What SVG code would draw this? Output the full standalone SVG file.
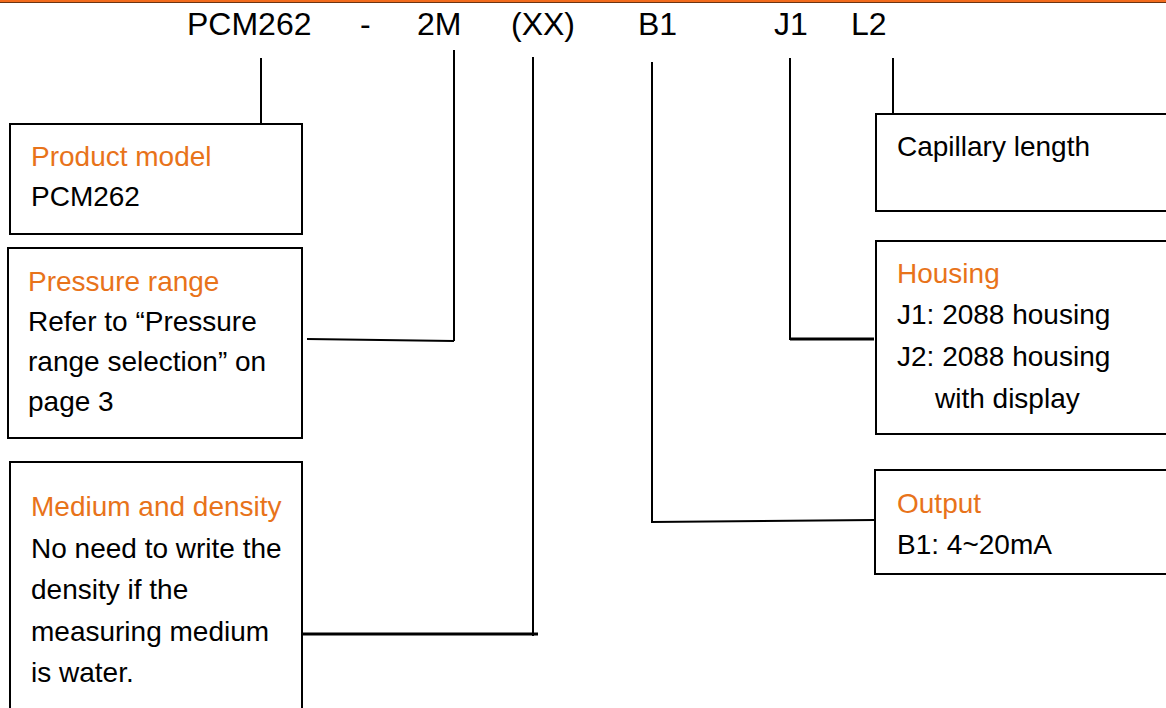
<svg xmlns="http://www.w3.org/2000/svg" width="1166" height="708" viewBox="0 0 1166 708">
<style>
text{font-family:"Liberation Sans",Arial,sans-serif;font-size:28px;fill:#000}
.t{fill:#E8731A}
.code{font-size:32px}
.box{fill:#fff;stroke:#000;stroke-width:2}
.c{fill:none;stroke:#000;stroke-width:2}
.ct{fill:none;stroke:#000;stroke-width:3}
</style>
<rect x="0" y="0" width="1166" height="2" fill="#F26B1D"/>
<rect x="0" y="2" width="1166" height="1" fill="#6b3412"/>
<g id="codes">
<text class="code" x="187" y="35">PCM262</text>
<text class="code" x="360" y="35">-</text>
<text class="code" x="417" y="35">2M</text>
<text class="code" x="511" y="35">(XX)</text>
<text class="code" x="638" y="35">B1</text>
<text class="code" x="774" y="35">J1</text>
<text class="code" x="851" y="35">L2</text>
</g>
<g id="connectors">
<line class="c" x1="261" y1="58" x2="261" y2="124"/>
<line class="c" x1="454" y1="50" x2="454" y2="341"/>
<polyline class="c" points="307,339 454,341"/>
<line class="c" x1="533" y1="57" x2="533" y2="636"/>
<line class="ct" x1="302" y1="634" x2="538" y2="634"/>
<polyline class="c" points="652,62 652,522 875,520"/>
<line class="c" x1="790" y1="58" x2="790" y2="340"/>
<line class="ct" x1="790" y1="339" x2="874" y2="339"/>
<line class="c" x1="893" y1="58" x2="893" y2="114"/>
</g>
<g id="product">
<rect class="box" x="10" y="124" width="292" height="110"/>
<text class="t" x="31" y="166">Product model</text>
<text x="31" y="206">PCM262</text>
</g>
<g id="pressure">
<rect class="box" x="8" y="248" width="294" height="190"/>
<text class="t" x="28" y="291">Pressure range</text>
<text x="28" y="331">Refer to “Pressure</text>
<text x="28" y="371">range selection” on</text>
<text x="28" y="411">page 3</text>
</g>
<g id="medium">
<rect class="box" x="10" y="462" width="292" height="260"/>
<text class="t" x="31" y="516">Medium and density</text>
<text x="31" y="558">No need to write the</text>
<text x="31" y="599">density if the</text>
<text x="31" y="641">measuring medium</text>
<text x="31" y="682">is water.</text>
</g>
<g id="capillary">
<rect class="box" x="876" y="114" width="300" height="97"/>
<text x="897" y="156">Capillary length</text>
</g>
<g id="housing">
<rect class="box" x="876" y="241" width="300" height="193"/>
<text class="t" x="897" y="283">Housing</text>
<text x="897" y="324">J1: 2088 housing</text>
<text x="897" y="366">J2: 2088 housing</text>
<text x="935" y="408">with display</text>
</g>
<g id="output">
<rect class="box" x="875" y="470" width="301" height="104"/>
<text class="t" x="897" y="513">Output</text>
<text x="897" y="554">B1: 4~20mA</text>
</g>
</svg>
